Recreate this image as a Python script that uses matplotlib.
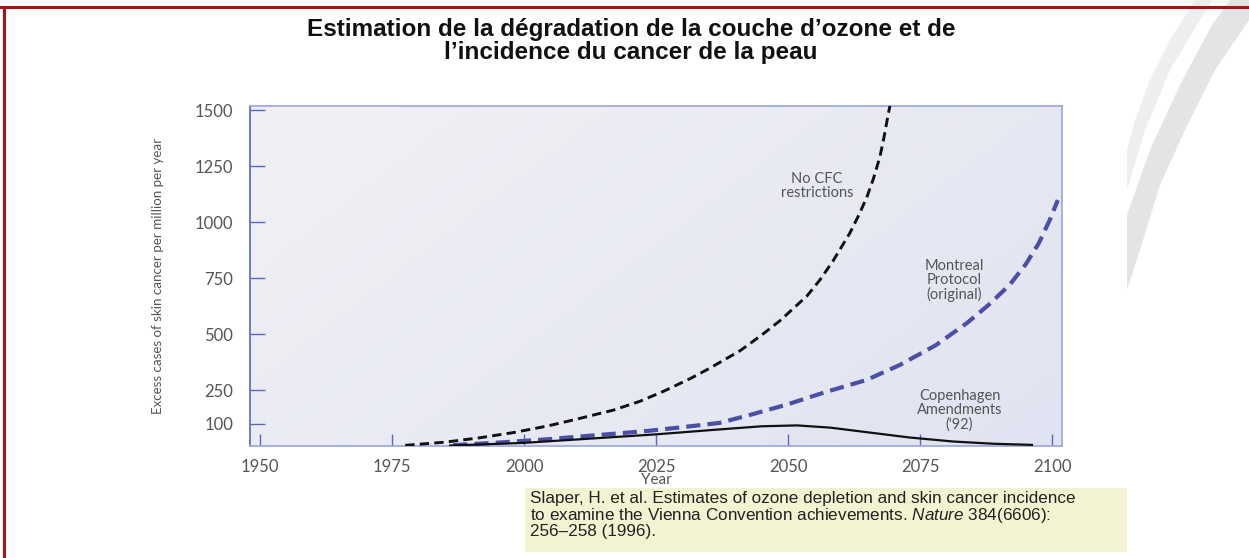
import matplotlib
matplotlib.use("Agg")
import matplotlib.pyplot as plt
import numpy as np
from matplotlib.patches import Rectangle, Polygon
from matplotlib.lines import Line2D
from matplotlib.colors import LinearSegmentedColormap

# ---------------- data ----------------
nocfc_years = [1977.5, 1985.0, 1991.7, 1998.0, 2004.4, 2010.0, 2016.9, 2022.0, 2026.5,
               2031.4, 2035.0, 2040.9, 2045.0, 2048.5, 2053.6, 2056.0, 2058.5, 2061.7,
               2063.5, 2065.0, 2066.2, 2067.4, 2068.2, 2068.9, 2069.4]
nocfc_vals = [3, 17, 37, 60, 89, 120, 160, 200, 245,
              300, 345, 425, 495, 560, 670, 740, 825, 950,
              1035, 1115, 1195, 1290, 1380, 1470, 1530]

montreal_years = [1986.6, 1995.0, 2004.4, 2012.0, 2023.3, 2030.0, 2037.0, 2043.0, 2049.8,
                  2057.0, 2064.9, 2071.2, 2078.0, 2083.9, 2088.0, 2092.0, 2095.0, 2097.5,
                  2099.6, 2101.1]
montreal_vals = [4, 15, 30, 45, 67, 84, 103, 140, 185,
                 240, 295, 362, 450, 549, 630, 720, 810, 905,
                 1010, 1098]

copen_years = [1986.0, 2000.0, 2010.6, 2025.0, 2037.0, 2045.0, 2051.7, 2058.0,
               2065.5, 2073.0, 2081.3, 2089.0, 2096.2]
copen_vals = [2, 14, 30, 52, 74, 88, 92, 82, 60, 38, 20, 10, 5]

x_ticks = [1950, 1975, 2000, 2025, 2050, 2075, 2100]
y_ticks = [100, 250, 500, 750, 1000, 1250, 1500]

title = "Estimation de la dégradation de la couche d\u2019ozone et de\nl\u2019incidence du cancer de la peau"
ylabel = "Excess cases of skin cancer per million per year"
xlabel = "Year"
label_nocfc = "No CFC\nrestrictions"
label_montreal = "Montreal\nProtocol\n(original)"
label_copen = "Copenhagen\nAmendments\n('92)"
citation = ("Slaper, H. et al. Estimates of ozone depletion and skin cancer incidence\n"
            "to examine the Vienna Convention achievements. $\\mathit{Nature}$ 384(6606):\n"
            "256\u2013258 (1996).")

plt.rcParams['mathtext.fontset'] = 'custom'
plt.rcParams['mathtext.it'] = 'Liberation Sans:italic'
plt.rcParams['mathtext.rm'] = 'Liberation Sans'

W, H = 1249, 558
fig = plt.figure(figsize=(W / 100, H / 100), dpi=100)
fig.patch.set_facecolor('white')


def px(points):
    return [(x, H - y) for x, y in points]


# decorative swoosh at right (image pixel coordinates, y from top)
sw1 = Polygon(px([(1127, 215), (1150, 150), (1180, 85), (1212, 25), (1230, 0),
                  (1249, 0), (1249, 20), (1215, 70), (1185, 130), (1160, 185),
                  (1140, 250), (1127, 290)]),
              closed=True, transform=None, facecolor='#E4E4E4', edgecolor='none', zorder=0)
sw2 = Polygon(px([(1195, 0), (1170, 40), (1150, 80), (1135, 120), (1127, 150), (1127, 190),
                  (1145, 130), (1170, 70), (1200, 20), (1212, 0)]),
              closed=True, transform=None, facecolor='#EEEEEE', edgecolor='none', zorder=0)
fig.patches.extend([sw1, sw2])

# red frame
fig.add_artist(Line2D([0, 1], [1 - 7 / H, 1 - 7 / H], transform=fig.transFigure,
                      color='#A3141B', lw=2.2))
fig.add_artist(Line2D([4 / W, 4 / W], [0, 1 - 7 / H], transform=fig.transFigure,
                      color='#A3141B', lw=2.2))

# axes
left, right, top, bottom = 250, 1062, 106, 446
ax = fig.add_axes([left / W, 1 - bottom / H, (right - left) / W, (bottom - top) / H])

# subtle background gradient (whiter left/top, bluish right/bottom)
gx, gy = np.meshgrid(np.linspace(0, 1, 200), np.linspace(0, 1, 100))
grad = 0.65 * gx + 0.35 * (1 - gy)
cmap = LinearSegmentedColormap.from_list('bg', ['#F1F1F5', '#E0E3F1'])
ax.imshow(grad, cmap=cmap, extent=[0, 1, 0, 1], transform=ax.transAxes,
          origin='lower', aspect='auto', zorder=0, interpolation='bilinear')

ax.plot(nocfc_years, nocfc_vals, color='#111111', lw=2.1, dashes=(3.2, 1.8),
        dash_capstyle='butt', zorder=3)
ax.plot(montreal_years, montreal_vals, color='#4B4FA6', lw=3.0, dashes=(3.4, 1.7),
        dash_capstyle='butt', zorder=3)
ax.plot(copen_years, copen_vals, color='#111111', lw=1.6, zorder=3)

ax.set_xlim(1948.1, 2101.9)
ax.set_ylim(0, 1518)

for s in ax.spines.values():
    s.set_color('#9AA6DA')
    s.set_linewidth(1.2)
ax.spines['left'].set_color('#5566C4')

ax.set_xticks(x_ticks)
ax.set_yticks(y_ticks)
ax.tick_params(axis='both', direction='in', color='#5566C4', width=1.0)
ax.tick_params(axis='y', length=11, pad=12)
ax.tick_params(axis='x', length=9, pad=9)
for lab in ax.get_xticklabels() + ax.get_yticklabels():
    lab.set_fontfamily('Lato')
    lab.set_fontsize(12)
    lab.set_color('#555555')

ax.set_xlabel(xlabel, family='Lato', fontsize=11, color='#555555', labelpad=-1)
ax.set_ylabel(ylabel, family='Lato', fontsize=9.6, color='#555555', labelpad=22)

txt_kw = dict(family='Lato', fontsize=10.5, color='#555555', ha='center', va='center',
              linespacing=1.0)
ax.text(2055.5, 1160, label_nocfc, **txt_kw)
ax.text(2081.5, 738, label_montreal, **txt_kw)
ax.text(2082.5, 160, label_copen, **txt_kw)

# title
fig.text(631 / W, 1 - 41 / H, title, ha='center', va='center', family='Liberation Sans',
         weight='bold', fontsize=17.5, color='#111111', linespacing=1.0)

# citation box
fig.patches.append(Rectangle((525 / W, 1 - 552 / H), (1127 - 525) / W, (552 - 488) / H,
                             transform=fig.transFigure, facecolor='#F3F3D2',
                             edgecolor='none', zorder=1))
fig.text(530 / W, 1 - 491 / H, citation, ha='left', va='top', family='Liberation Sans',
         fontsize=12.3, color='#222222', linespacing=0.98, zorder=2)

fig.savefig('out.png', dpi=100, facecolor='white')
